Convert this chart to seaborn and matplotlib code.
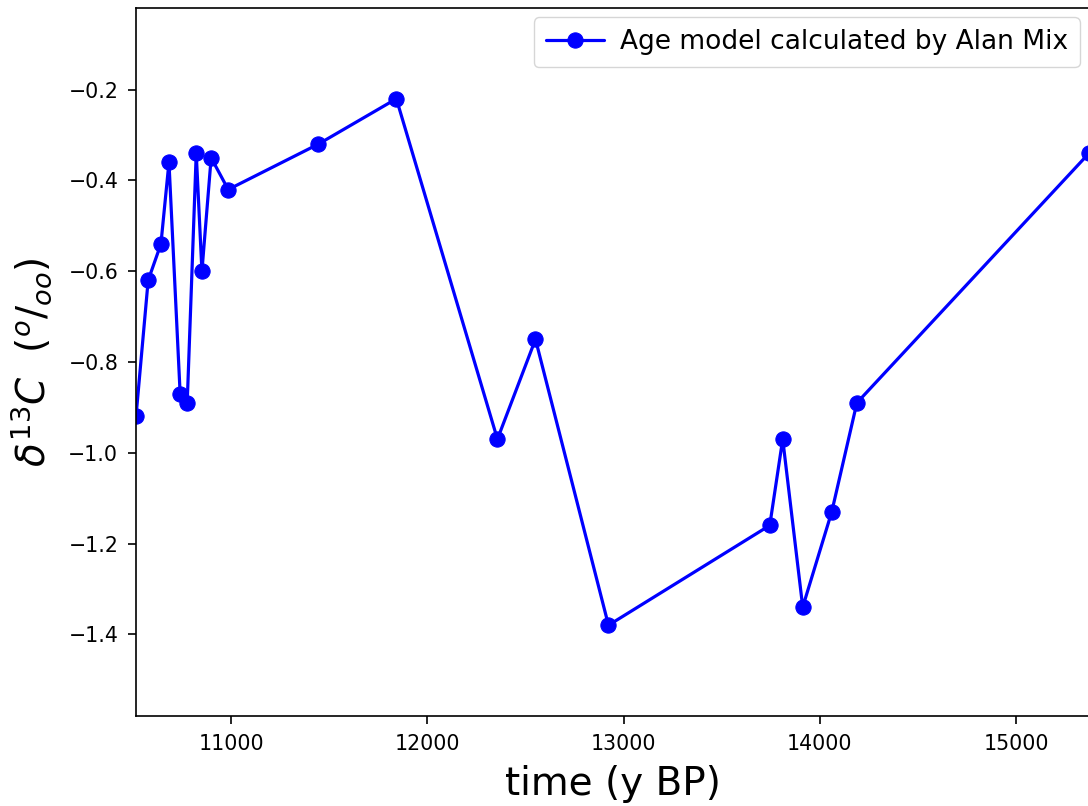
import matplotlib
matplotlib.use("Agg")
import matplotlib.pyplot as plt
import seaborn as sns
import pandas as pd

time_bp = [10515, 10577, 10642, 10683, 10740, 10776, 10822, 10851, 10898, 10985,
           11444, 11842, 12357, 12551, 12923, 13745, 13811, 13913, 14061, 14189, 15372]
d13c = [-0.92, -0.62, -0.54, -0.36, -0.87, -0.89, -0.34, -0.60, -0.35, -0.42,
        -0.32, -0.22, -0.97, -0.75, -1.38, -1.16, -0.97, -1.34, -1.13, -0.89, -0.34]
series_label = "Age model calculated by Alan Mix"

df = pd.DataFrame({"time": time_bp, "d13c": d13c})

sns.set_style("ticks")
plt.rcParams['font.family'] = ['DejaVu Sans']
plt.rcParams['text.color'] = 'black'
plt.rcParams['axes.labelcolor'] = 'black'

fig = plt.figure(figsize=(10.88, 8.06), dpi=100)
ax = fig.add_axes([136/1088, 1 - 716/806, 1 - 136/1088 + 1/1088, (716 - 8)/806])

sns.lineplot(data=df, x="time", y="d13c", sort=False, estimator=None,
             marker="o", color="blue", linewidth=2.3, markersize=11,
             markeredgecolor="blue", label=series_label, ax=ax)

ax.set_xlim(min(time_bp), max(time_bp))
ax.set_ylim(min(d13c) - 0.2, max(d13c) + 0.2)
ax.set_xticks([11000, 12000, 13000, 14000, 15000])
ax.set_yticks([-1.4, -1.2, -1.0, -0.8, -0.6, -0.4, -0.2])
ax.tick_params(labelsize=14.8, length=5.8, width=1.2, pad=7, colors="black")
for s in ax.spines.values():
    s.set_linewidth(1.2)
    s.set_color("black")

ax.set_xlabel("time (y BP)", fontsize=28, color="black", labelpad=8)
ax.set_ylabel(r"$\delta^{13}C\ \ (^o/_{oo})$", fontsize=28, color="black", labelpad=10)
leg = ax.legend(loc="upper right", fontsize=19, frameon=True, borderaxespad=0.35,
                borderpad=0.45, handlelength=2.2, handletextpad=0.6)
leg.get_frame().set_edgecolor("#cccccc")
for t in leg.get_texts():
    t.set_color("black")

fig.savefig("out.png", dpi=100)
